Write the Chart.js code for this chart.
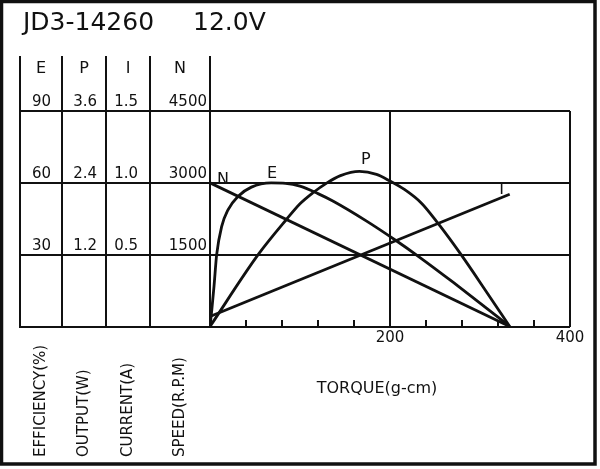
<!DOCTYPE html>
<html>
<head>
<meta charset="utf-8">
<script src="https://cdn.jsdelivr.net/npm/chart.js@4.4.1/dist/chart.umd.min.js"></script>
<style>
html,body{margin:0;padding:0;background:#fff;}
canvas{display:block;}
</style>
</head>
<body>
<canvas id="c" width="600" height="469"></canvas>
<script>
// ---- text ----
const titleModel = 'JD3-14260';
const titleVoltage = '12.0V';
const columnHeaders = ['E', 'P', 'I', 'N'];
const axisNames = ['EFFICIENCY(%)', 'OUTPUT(W)', 'CURRENT(A)', 'SPEED(R.P.M)'];
const xAxisName = 'TORQUE(g-cm)';
const curveNames = ['E', 'P', 'I', 'N'];

// ---- tick labels ----
const eTickValues = [30, 60, 90];
const eTickLabels = ['30', '60', '90'];
const pTickValues = [1.2, 2.4, 3.6];
const pTickLabels = ['1.2', '2.4', '3.6'];
const iTickValues = [0.5, 1.0, 1.5];
const iTickLabels = ['0.5', '1.0', '1.5'];
const nTickValues = [1500, 3000, 4500];
const nTickLabels = ['1500', '3000', '4500'];
const xTickValues = [200, 400];
const xTickLabels = ['200', '400'];

// ---- series (torque in g-cm) ----
const effTorque = [0, 2, 4.5, 7.4, 13, 20, 31, 46, 68, 84, 100, 120, 137, 174, 207, 233, 270, 300, 320, 333];
const effValues = [0, 7, 17, 30, 41.8, 48.7, 54.3, 58.2, 60.0, 59.8, 58.6, 55.5, 52.3, 44, 35.8, 28.9, 18.5, 9.8, 3.9, 0];
const outTorque = [0, 53.5, 85.6, 100, 114, 130, 145, 166, 185, 200, 216, 235, 253, 279, 308, 333];
const outValues = [0, 1.2, 1.8, 2.05, 2.23, 2.4, 2.52, 2.59, 2.54, 2.43, 2.29, 2.06, 1.73, 1.2, 0.56, 0];
const curTorque = [0, 333];
const curValues = [0.07, 0.92];
const spdTorque = [0, 333];
const spdValues = [3000, 0];

const F = '"DejaVu Sans", "Liberation Sans", sans-serif';
const INK = '#111';

function pts(xs, ys) { return xs.map((x, i) => ({ x: x, y: ys[i] })); }
function lab(vals, labels, v) {
  const i = vals.findIndex(t => Math.abs(t - v) < 1e-9);
  return i >= 0 ? labels[i] : '';
}
function yAxis(weight, width, min, max, vals, labels, pad, grid) {
  return {
    type: 'linear', position: 'left', weight: weight, min: min, max: max,
    afterBuildTicks: s => { s.ticks = [0].concat(vals).map(v => ({ value: v })); },
    afterFit: s => { s.width = width; },
    ticks: {
      padding: pad, crossAlign: 'near', labelOffset: -9, color: INK,
      font: { family: F, size: 15 },
      callback: v => lab(vals, labels, v)
    },
    grid: grid ? { drawTicks: false, lineWidth: 2, color: INK } : { display: false, drawTicks: false },
    border: { display: false }
  };
}

const decor = {
  id: 'decor',
  afterDraw(chart) {
    const { ctx, chartArea: ca, scales } = chart;
    const sE = scales.yE, sP = scales.yP, sI = scales.yI, sN = scales.yN, sx = scales.x;
    const cols = [sE, sP, sI, sN];
    const al = v => Math.round(v - 1) + 1;
    const line = (x1, y1, x2, y2) => { ctx.beginPath(); ctx.moveTo(x1, y1); ctx.lineTo(x2, y2); ctx.stroke(); };
    const topY = 57;
    ctx.save();
    ctx.strokeStyle = INK; ctx.lineWidth = 2; ctx.lineCap = 'square';
    // table horizontal lines
    [0].concat(eTickValues).forEach(v => {
      const y = al(sE.getPixelForValue(v));
      line(al(sE.left), y, ca.left, y);
    });
    // table vertical lines
    cols.forEach(s => { const x = al(s.left); line(x, topY, x, al(ca.bottom)); });
    const xl = al(ca.left);
    line(xl, topY, xl, al(ca.top));
    // minor torque ticks
    ctx.lineCap = 'butt';
    sx.ticks.forEach(t => {
      if (t.value > 0 && t.value < 400 && xTickValues.indexOf(t.value) < 0) {
        const x = al(sx.getPixelForValue(t.value));
        line(x, al(ca.bottom), x, al(ca.bottom) - 7);
      }
    });
    // texts
    ctx.fillStyle = INK;
    ctx.font = '25px ' + F;
    ctx.textAlign = 'left'; ctx.textBaseline = 'alphabetic';
    ctx.fillText(titleModel, 23, 30);
    ctx.fillText(titleVoltage, 193, 30);
    ctx.font = '16px ' + F;
    ctx.textAlign = 'center'; ctx.textBaseline = 'middle';
    cols.forEach((s, i) => ctx.fillText(columnHeaders[i], (s.left + s.right) / 2, 69));
    // rotated axis names
    ctx.font = '15px ' + F;
    cols.forEach((s, i) => {
      ctx.save();
      ctx.translate((s.left + s.right) / 2, 457);
      ctx.rotate(-Math.PI / 2);
      ctx.textAlign = 'left'; ctx.textBaseline = 'middle';
      ctx.fillText(axisNames[i], 0, 0);
      ctx.restore();
    });
    ctx.font = '16px ' + F;
    ctx.textAlign = 'center'; ctx.textBaseline = 'middle';
    ctx.fillText(xAxisName, 377, 389);
    // curve names, anchored in data units
    const anchors = [
      [sE, 69, 63.7], [sP, 173, 2.78], [sI, 324, 0.95], [sN, 14.4, 3060]
    ];
    anchors.forEach((a, i) => {
      ctx.fillText(curveNames[i], sx.getPixelForValue(a[1]), a[0].getPixelForValue(a[2]));
    });
    // outer frame
    ctx.lineWidth = 3.5; ctx.lineCap = 'butt';
    ctx.strokeRect(1.5, 1.5, 593.5, 462.5);
    ctx.restore();
  }
};

const curveStyle = { borderColor: INK, borderWidth: 2.8, pointRadius: 0, showLine: true, fill: false };

new Chart(document.getElementById('c'), {
  type: 'scatter',
  data: {
    datasets: [
      Object.assign({ label: 'E', data: pts(effTorque, effValues), yAxisID: 'yE', cubicInterpolationMode: 'monotone' }, curveStyle),
      Object.assign({ label: 'P', data: pts(outTorque, outValues), yAxisID: 'yP', cubicInterpolationMode: 'monotone' }, curveStyle),
      Object.assign({ label: 'I', data: pts(curTorque, curValues), yAxisID: 'yI' }, curveStyle),
      Object.assign({ label: 'N', data: pts(spdTorque, spdValues), yAxisID: 'yN' }, curveStyle)
    ]
  },
  options: {
    responsive: false,
    animation: false,
    layout: { padding: { left: 20, right: 30, top: 111, bottom: 0 } },
    plugins: { legend: { display: false }, tooltip: { enabled: false }, title: { display: false } },
    scales: {
      x: {
        type: 'linear', position: 'bottom', min: 0, max: 400,
        afterFit: s => { s.height = 142.5; },
        ticks: {
          stepSize: 40, autoSkip: false, maxRotation: 0, padding: 3, color: INK,
          font: { family: F, size: 15 },
          callback: v => lab(xTickValues, xTickLabels, v)
        },
        grid: {
          drawTicks: false, lineWidth: 2,
          color: c => (c.tick && (c.tick.value === 0 || xTickValues.indexOf(c.tick.value) >= 0)) ? INK : 'rgba(0,0,0,0)'
        },
        border: { display: false }
      },
      yE: yAxis(4, 42, 0, 90, eTickValues, eTickLabels, 11, true),
      yP: yAxis(3, 44, 0, 3.6, pTickValues, pTickLabels, 9, false),
      yI: yAxis(2, 44, 0, 1.5, iTickValues, iTickLabels, 12, false),
      yN: yAxis(1, 60, 0, 4500, nTickValues, nTickLabels, 3, false)
    }
  },
  plugins: [decor]
});
</script>
</body>
</html>
